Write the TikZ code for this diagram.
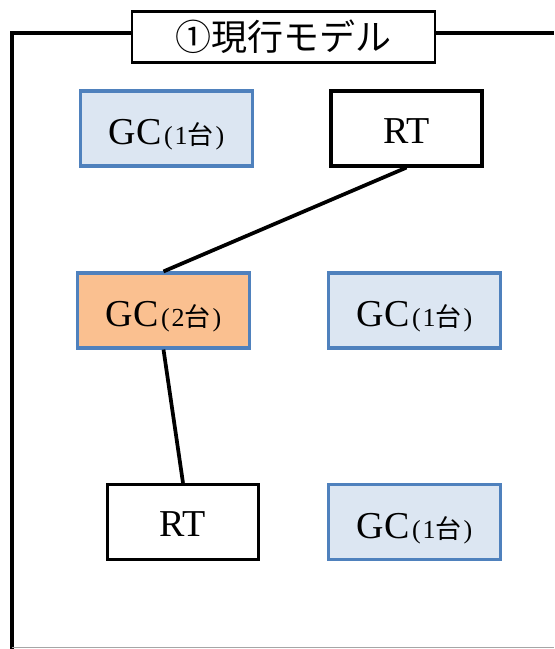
\documentclass[tikz,border=0pt]{standalone}
\usepackage{fontspec}
\setmainfont{Liberation Serif}
\newfontfamily\cjk{Noto Sans CJK JP}
\begin{document}
\begin{tikzpicture}[x=0.75pt,y=-0.75pt,
  gcbox/.style={draw=gcborder,fill=gcfill,line width=2.6pt,minimum width=129pt,minimum height=56pt,inner sep=0pt},
  gcsel/.style={gcbox,fill=gcorange},
  rtbox/.style={draw=black,fill=white,line width=2.6pt,minimum width=113pt,minimum height=56pt,inner sep=0pt},
  link/.style={line width=2.8pt}]
\definecolor{gcborder}{HTML}{4F81BD}
\definecolor{gcfill}{HTML}{DCE6F2}
\definecolor{gcorange}{HTML}{FAC090}
% labels sit with their baseline a fixed distance below the box centre
\newcommand{\gclabel}[1]{\raisebox{-12pt}[0pt][0pt]{\fontsize{28.5pt}{30pt}\selectfont GC\hspace{2pt}{\fontsize{19.5pt}{21pt}\selectfont(\hspace{1.5pt}#1{\cjk 台}\hspace{1.5pt})}}}
\newcommand{\rtlabel}{\raisebox{-11pt}[0pt][0pt]{\fontsize{28.5pt}{30pt}\selectfont RT}}
\useasboundingbox (0,0) rectangle (554,649);
% outer frame
\draw[line width=2.6pt] (132,33) -- (12,33) -- (12,649);
\draw[line width=2.6pt] (435,33) -- (554,33);
\draw[gray!70,line width=0.8pt] (12,647.5) -- (554,647.5);
% title
\node[draw=black,line width=1.8pt,fill=white,minimum width=227pt,minimum height=38pt,inner sep=0pt] (title) at (283.5,37)
  {\cjk\fontsize{27pt}{29pt}\selectfont ①現行モデル};
% nodes
\node[gcbox] (gcA) at (166.5,128.5) {\gclabel{1}};
\node[rtbox] (rtA) at (406.5,128.5) {\rtlabel};
\node[gcsel] (gcB) at (163.5,310.5) {\gclabel{2}};
\node[gcbox] (gcC) at (414.5,310.5) {\gclabel{1}};
\node[rtbox] (rtB) at (183,522) {\rtlabel};
\node[gcbox] (gcD) at (414.5,522) {\gclabel{1}};
% links
\draw[link] (rtA.south) -- (gcB.north);
\draw[link] (gcB.south) -- (rtB.north);
\end{tikzpicture}
\end{document}
